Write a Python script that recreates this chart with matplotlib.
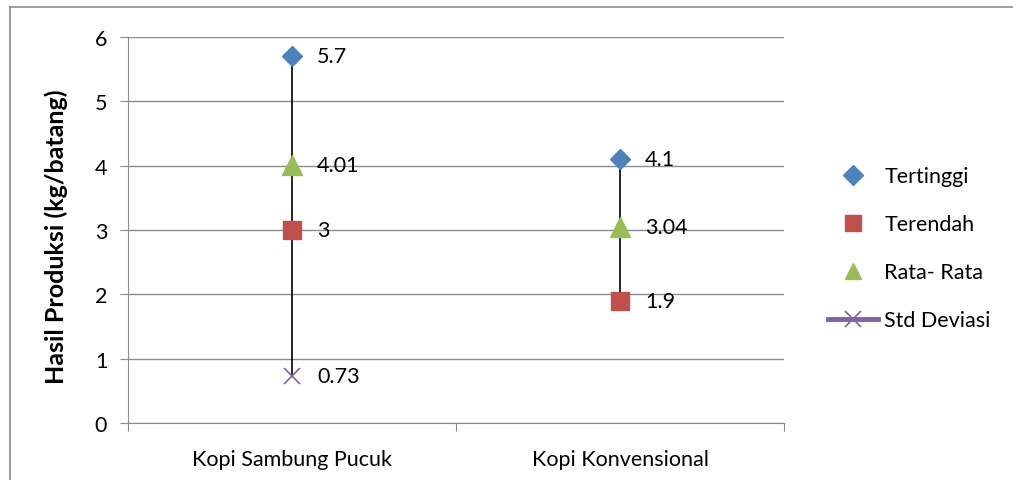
import numpy as np
import matplotlib
matplotlib.use("Agg")
import matplotlib.pyplot as plt
from matplotlib.lines import Line2D

plt.rcParams['font.family'] = ['Lato', 'DejaVu Sans']

# data
kategori = ["Kopi Sambung Pucuk", "Kopi Konvensional"]
tertinggi = [5.7, 4.1]
terendah = [3.0, 1.9]
rata_rata = [4.01, 3.04]
std_deviasi = [0.73, np.nan]

label_tertinggi = ["5.7", "4.1"]
label_terendah = ["3", "1.9"]
label_rata = ["4.01", "3.04"]
label_std = ["0.73", ""]

fig = plt.figure(figsize=(10.13, 4.81), dpi=100)
ax = fig.add_axes([0.1264, 0.1185, 0.6476, 0.8025])

x = np.arange(len(kategori)) + 0.5

# garis tinggi-rendah
semua = np.array([tertinggi, terendah, rata_rata, std_deviasi], dtype=float)
for i, xi in enumerate(x):
    ax.plot([xi, xi], [np.nanmin(semua[:, i]), np.nanmax(semua[:, i])],
            color="black", lw=1.2, zorder=2)

ax.plot(x, tertinggi, ls="none", marker="D", ms=10, color="#4F81BD", zorder=3)
ax.plot(x, terendah, ls="none", marker="s", ms=13, color="#C0504D", zorder=3)
ax.plot(x, rata_rata, ls="none", marker="^", ms=14, color="#9BBB59", zorder=3)
ax.plot(x, std_deviasi, ls="none", marker="x", ms=12, mew=1.2, color="#8064A2", zorder=3)

for vals, labs in [(tertinggi, label_tertinggi), (terendah, label_terendah),
                   (rata_rata, label_rata), (std_deviasi, label_std)]:
    for xi, v, t in zip(x, vals, labs):
        if t:
            ax.annotate(t, (xi, v), xytext=(18, 0), textcoords="offset points",
                        va="center", ha="left", fontsize=15.5)

ax.set_xlim(0, 2)
ax.set_ylim(0, 6)
ax.set_yticks(range(0, 7))
ax.grid(axis="y", color="#8c8c8c", lw=1)
ax.set_axisbelow(True)
ax.set_xticks([0, 1, 2])
ax.set_xticklabels([])
ax.set_xticks(x, minor=True)
ax.set_xticklabels(kategori, minor=True, fontsize=15.5)
ax.tick_params(axis="x", which="major", length=6, color="#8c8c8c", direction="out")
ax.tick_params(axis="x", which="minor", length=0, pad=19)
ax.tick_params(axis="y", length=6, color="#8c8c8c", labelsize=15.5, pad=9)
for s in ["top", "right"]:
    ax.spines[s].set_visible(False)
for s in ["left", "bottom"]:
    ax.spines[s].set_color("#8c8c8c")
ax.set_ylabel("Hasil Produksi (kg/batang)", fontsize=18, fontweight="bold")
ax.yaxis.set_label_coords(-0.092, 0.485)

handles = [
    Line2D([], [], ls="none", marker="D", ms=10, color="#4F81BD"),
    Line2D([], [], ls="none", marker="s", ms=12, color="#C0504D"),
    Line2D([], [], ls="none", marker="^", ms=12, color="#9BBB59"),
    Line2D([], [], color="#8064A2", lw=3.5, marker="x", ms=12, mew=1.2),
]
ax.legend(handles, ["Tertinggi", "Terendah", "Rata- Rata", "Std Deviasi"],
          loc="center left", bbox_to_anchor=(1.038, 0.453), frameon=False,
          fontsize=15.5, handlelength=2.3, handletextpad=0.3, labelspacing=1.3)

# bingkai (hanya atas dan kiri yang terlihat)
fig.add_artist(Line2D([10 / 1013, 1], [1 - 8 / 481, 1 - 8 / 481],
                      transform=fig.transFigure, color="#8c8c8c", lw=1.2))
fig.add_artist(Line2D([10 / 1013, 10 / 1013], [0, 1 - 8 / 481],
                      transform=fig.transFigure, color="#8c8c8c", lw=1.2))

fig.savefig("out.png", dpi=100)
